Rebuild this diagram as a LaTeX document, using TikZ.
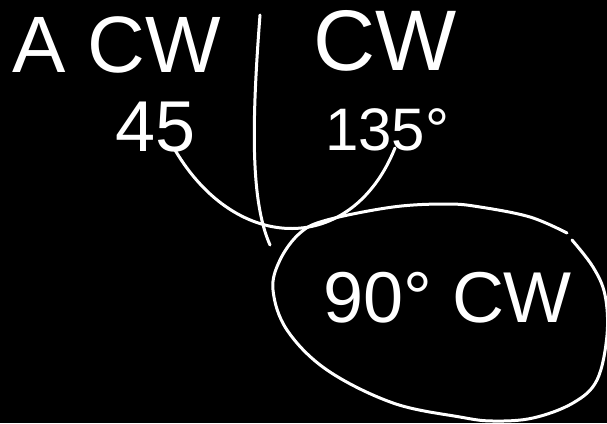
\documentclass[tikz,border=0pt]{standalone}
\usepackage{fontspec}
\setmainfont{Liberation Sans}
\begin{document}
\begin{tikzpicture}[x=1pt,y=-1pt,
  ink/.style={draw=white,line width=3pt,line cap=round,line join=round},
  hand/.style={text=white,inner sep=0pt,anchor=base west}]
\fill[black] (0,0) rectangle (607,423);
\useasboundingbox (0,0) rectangle (607,423);
% texts
\node[hand,font=\fontsize{80}{90}\selectfont] (acw) at (12,72) {A CW};
\node[hand,font=\fontsize{86}{96}\selectfont] (cw) at (313,70) {CW};
\node[hand,font=\fontsize{72}{80}\selectfont] (n45) at (115,151) {45};
\node[hand,font=\fontsize{60}{70}\selectfont] (n135) at (325,150) {135°};
\node[hand,font=\fontsize{72}{80}\selectfont] (n90) at (323,322) {90° CW};
% divider
\coordinate (dtop) at (260,15);
\coordinate (dbot) at (270,245);
\draw[ink] (dtop) .. controls (252,120) and (250,200) .. (dbot);
% arc from 45 to 135
\coordinate (a1) at (175,150);
\coordinate (a2) at (395,148);
\draw[ink] (a1) .. controls (237,255) and (352,255) .. (a2);
% ellipse around 90 CW
\draw[ink] plot[smooth,tension=0.6] coordinates {(572,240) (593,267) (605,295) (607,335) (597,380) (573,403) (533,418) (493,421) (460,417) (393,403) (327,370) (287,330) (273,290) (280,260) (300,233) (327,220) (393,207) (447,204) (480,207) (530,217) (567,233)};
\end{tikzpicture}
\end{document}
